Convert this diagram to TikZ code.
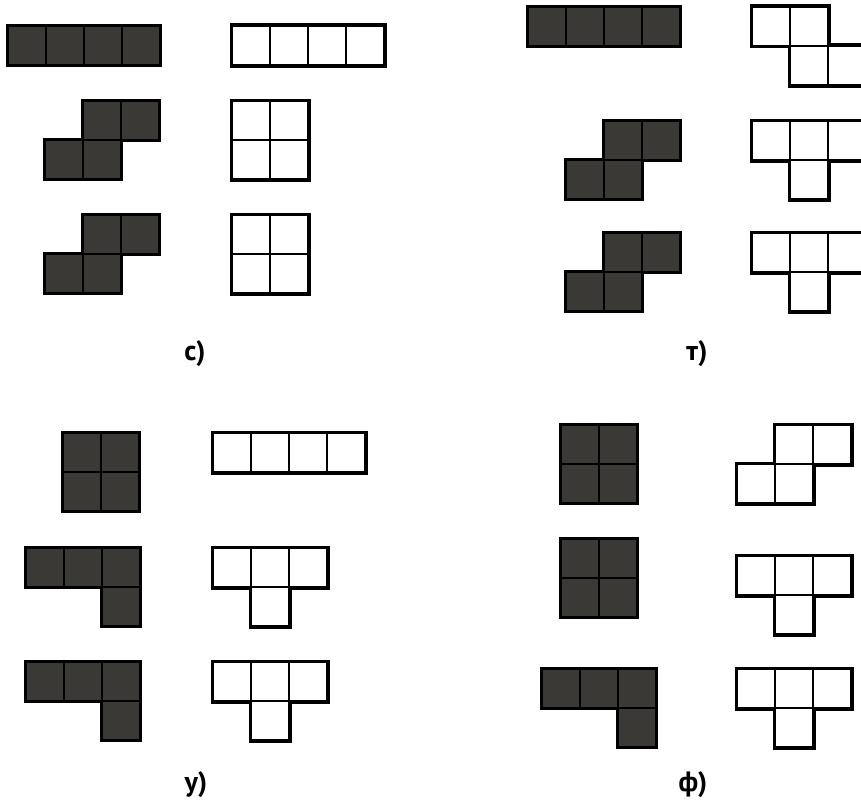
\documentclass[tikz,border=0pt]{standalone}
\usepackage{fontspec}
\setmainfont{PT Sans}
\definecolor{tileDark}{RGB}{58,57,54}
\newcommand\cw{38}
\newcommand\ch{39}
% #1 edge style, #2 fill style, #3 thin width, #4 x0, #5 y0, #6 cells
\newcommand\tilepiece[6]{%
  \foreach \c/\r in {#6} {\draw[#1] ({#4+\c*\cw},{#5+\r*\ch}) rectangle ++(\cw,\ch);}
  \foreach \c/\r in {#6} {\fill[#2] ({#4+\c*\cw+#3/2},{#5+\r*\ch+#3/2}) rectangle ++({\cw-#3},{\ch-#3});}
}
\newcommand\darkpiece[3]{\tilepiece{darkedge}{darkinside}{2}{#1}{#2}{#3}}
\newcommand\lightpiece[3]{\tilepiece{lightedge}{lightinside}{2.6}{#1}{#2}{#3}}
\begin{document}
\begin{tikzpicture}[x=1pt,y=-1pt,
  darkedge/.style={draw=black,line width=4pt},
  darkinside/.style={fill=tileDark},
  lightedge/.style={draw=black,line width=5pt},
  lightinside/.style={fill=white},
  lbl/.style={font=\fontsize{28}{32}\selectfont\bfseries,anchor=base,inner sep=0pt}]
\useasboundingbox (0,0) rectangle (861,808);
\fill[white] (0,0) rectangle (861,808);
\clip (0,0) rectangle (861,808);
% panel c
\darkpiece{8}{26}{0/0,1/0,2/0,3/0}
\lightpiece{232}{26}{0/0,1/0,2/0,3/0}
\darkpiece{45}{101}{1/0,2/0,0/1,1/1}
\lightpiece{232}{101}{0/0,1/0,0/1,1/1}
\darkpiece{45}{215}{1/0,2/0,0/1,1/1}
\lightpiece{232}{215}{0/0,1/0,0/1,1/1}
\node[lbl] (lc) at (195,360) {с)};
% panel t
\darkpiece{528}{7}{0/0,1/0,2/0,3/0}
\lightpiece{752}{7}{0/0,1/0,1/1,2/1}
\darkpiece{566}{121}{1/0,2/0,0/1,1/1}
\lightpiece{752}{121}{0/0,1/0,2/0,1/1}
\darkpiece{566}{233}{1/0,2/0,0/1,1/1}
\lightpiece{752}{233}{0/0,1/0,2/0,1/1}
\node[lbl] (lt) at (697,360) {т)};
% panel u
\darkpiece{63}{433}{0/0,1/0,0/1,1/1}
\lightpiece{213}{433}{0/0,1/0,2/0,3/0}
\darkpiece{26}{548}{0/0,1/0,2/0,2/1}
\lightpiece{213}{548}{0/0,1/0,2/0,1/1}
\darkpiece{26}{662}{0/0,1/0,2/0,2/1}
\lightpiece{213}{662}{0/0,1/0,2/0,1/1}
\node[lbl] (lu) at (196,791) {у)};
% panel f
\darkpiece{561}{425}{0/0,1/0,0/1,1/1}
\lightpiece{737}{425}{1/0,2/0,0/1,1/1}
\darkpiece{561}{539}{0/0,1/0,0/1,1/1}
\lightpiece{737}{556}{0/0,1/0,2/0,1/1}
\darkpiece{542}{669}{0/0,1/0,2/0,2/1}
\lightpiece{737}{669}{0/0,1/0,2/0,1/1}
\node[lbl] (lf) at (693,791) {ф)};
\end{tikzpicture}
\end{document}
